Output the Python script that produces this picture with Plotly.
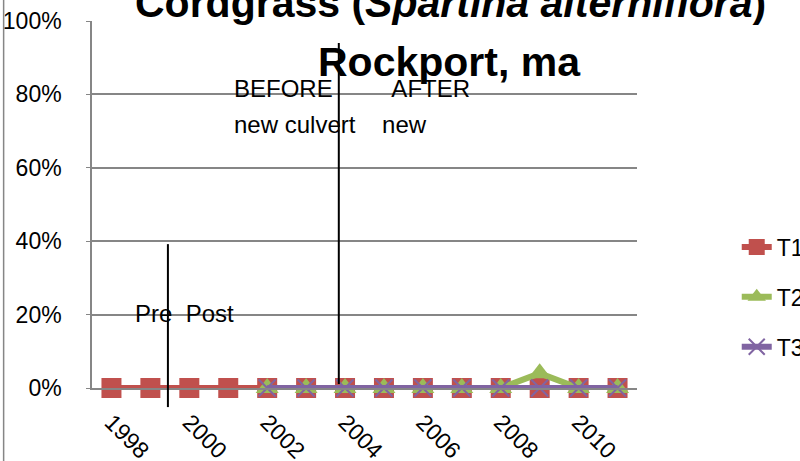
import plotly.graph_objects as go

years = list(range(1998, 2012))
t1_years = years
t1_vals = [0.0] * 14
t2_years = list(range(2002, 2012))
t2_vals = [0, 0, 0, 0, 0, 0, 0, 0.04, 0, 0]
t3_years = list(range(2002, 2012))
t3_vals = [0.0] * 10
y_ticks = [0, 0.2, 0.4, 0.6, 0.8, 1.0]
y_labels = ["0%", "20%", "40%", "60%", "80%", "100%"]
x_ticks = [1998, 2000, 2002, 2004, 2006, 2008, 2010]

FONT = "Liberation Sans, Arial"
RED, GREEN, PURPLE = "#C0504D", "#9BBB59", "#8064A2"
GRID = "#868686"

XR = [1997.5, 2011.5]
def px(x):
    return (x - XR[0]) / (XR[1] - XR[0])

fig = go.Figure()
fig.add_trace(go.Scatter(x=t1_years, y=t1_vals, name="T1", mode="lines+markers",
                         line=dict(color=RED, width=6),
                         marker=dict(symbol="square", size=20, color=RED),
                         cliponaxis=False, legendgroup="a"))
fig.add_trace(go.Scatter(x=t2_years, y=t2_vals, name="T2", mode="lines+markers",
                         line=dict(color=GREEN, width=6),
                         marker=dict(symbol="triangle-up", size=20, color=GREEN),
                         cliponaxis=False, legendgroup="b"))
fig.add_trace(go.Scatter(x=t3_years, y=t3_vals, name="T3", mode="lines+markers",
                         line=dict(color=PURPLE, width=6),
                         marker=dict(symbol="x-thin", size=17, color=PURPLE,
                                     line=dict(color=PURPLE, width=2)),
                         cliponaxis=False, legendgroup="c"))

shapes = [
    dict(type="line", xref="paper", yref="paper", x0=px(1999.45), x1=px(1999.45),
         y0=-0.052, y1=0.392, line=dict(color="black", width=2)),
    dict(type="line", xref="paper", yref="paper", x0=px(2003.84), x1=px(2003.84),
         y0=0.011, y1=0.94, line=dict(color="black", width=2)),
    dict(type="line", xref="paper", yref="paper", x0=px(1995.23), x1=px(1995.23),
         y0=-0.3, y1=1.1, line=dict(color=GRID, width=1.5)),
]

annotations = [
    dict(text="<b>Cordgrass (<i>Spartina alterniflora</i>)</b>",
         xref="paper", yref="paper", x=px(2006.72), y=1.048, xanchor="center", yanchor="middle",
         showarrow=False, font=dict(family=FONT, size=41, color="black")),
    dict(text="<b>Rockport, ma</b>",
         xref="paper", yref="paper", x=px(2006.68), y=0.888, xanchor="center", yanchor="middle",
         showarrow=False, font=dict(family=FONT, size=41, color="black")),
    dict(text="Pre  Post", xref="x", yref="y", x=1998.55, y=0.2025, xanchor="left",
         yanchor="middle", showarrow=False, font=dict(family=FONT, size=24, color="black")),
    dict(text="BEFORE         AFTER", xref="x", yref="y", x=2001.1, y=0.816, xanchor="left",
         yanchor="middle", showarrow=False, font=dict(family=FONT, size=24, color="black")),
    dict(text="new culvert    new", xref="x", yref="y", x=2001.1, y=0.717, xanchor="left",
         yanchor="middle", showarrow=False, font=dict(family=FONT, size=24, color="black")),
]

fig.update_layout(
    width=800, height=461,
    margin=dict(l=92, r=163, t=21, b=73, autoexpand=False),
    paper_bgcolor="white", plot_bgcolor="white",
    font=dict(family=FONT, size=23, color="black"),
    showlegend=True,
    legend=dict(x=1.183, y=0.248, xanchor="left", yanchor="middle",
                font=dict(family=FONT, size=23), tracegroupgap=17,
                bgcolor="rgba(0,0,0,0)"),
    shapes=shapes, annotations=annotations,
    xaxis=dict(range=XR, tickmode="array", tickvals=x_ticks, ticktext=[str(v) for v in x_ticks],
               tickangle=45, showgrid=False, zeroline=False, showline=True,
               linecolor=GRID, linewidth=1.5, ticks="", tickfont=dict(size=23),
               automargin=False, ticklabelstandoff=10),
    yaxis=dict(range=[0, 1], tickmode="array", tickvals=y_ticks, ticktext=y_labels,
               showgrid=True, gridcolor=GRID, gridwidth=1.5, zeroline=False,
               showline=True, linecolor=GRID, linewidth=1.5, ticks="outside",
               ticklen=4, tickcolor=GRID, tickfont=dict(size=23),
               automargin=False, ticklabelstandoff=20),
)

fig.write_html("out.html", config={"displayModeBar": False},
               post_script="document.body.style.margin='0';document.body.style.overflow='hidden';")
